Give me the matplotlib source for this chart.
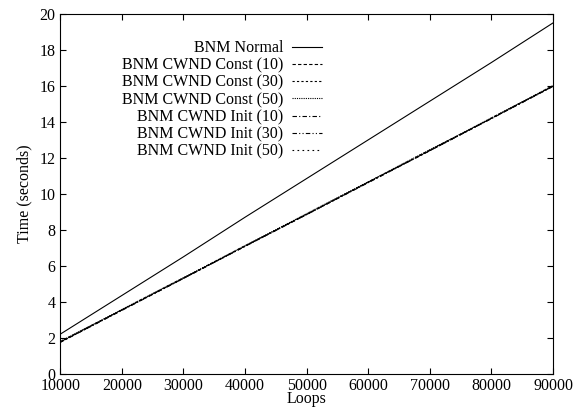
import matplotlib
matplotlib.use("Agg")
import matplotlib.pyplot as plt

plt.rcParams['font.family'] = ['Liberation Serif', 'DejaVu Serif']

# 데이터
loops = [10000, 20000, 30000, 40000, 50000, 60000, 70000, 80000, 90000]
normal = [2.2, 4.35, 6.5, 8.7, 10.85, 13.0, 15.15, 17.3, 19.5]
const10 = [1.75, 3.55, 5.3, 7.1, 8.85, 10.65, 12.4, 14.2, 16.0]
const30 = [1.78, 3.55, 5.32, 7.1, 8.87, 10.65, 12.42, 14.2, 15.98]
const50 = [1.8, 3.57, 5.34, 7.12, 8.9, 10.67, 12.45, 14.22, 16.02]
init10 = [1.75, 3.52, 5.3, 7.08, 8.85, 10.62, 12.4, 14.18, 15.97]
init30 = [1.77, 3.54, 5.31, 7.09, 8.86, 10.64, 12.41, 14.19, 15.99]
init50 = [1.78, 3.56, 5.33, 7.11, 8.88, 10.66, 12.44, 14.21, 16.01]

labels = ["BNM Normal", "BNM CWND Const (10)", "BNM CWND Const (30)",
          "BNM CWND Const (50)", "BNM CWND Init (10)", "BNM CWND Init (30)",
          "BNM CWND Init (50)"]
series = [normal, const10, const30, const50, init10, init30, init50]
styles = ["-", (0, (3, 2)), (0, (2, 2)), (0, (1, 1)),
          (0, (4, 2, 1, 2)), (0, (4, 2, 1, 2, 1, 2)), (0, (1.5, 3))]

fig = plt.figure(figsize=(5.84, 4.09), dpi=100)
ax = fig.add_axes([0.103, 0.086, 0.844, 0.88])

for s, lab, ls in zip(series, labels, styles):
    ax.plot(loops, s, color="black", linestyle=ls, linewidth=0.8, label=lab)

ax.set_xlim(10000, 90000)
ax.set_ylim(0, 20)
ax.set_xticks(range(10000, 90001, 10000))
ax.set_yticks(range(0, 21, 2))
ax.tick_params(direction="in", top=True, right=True, labelsize=11.5, length=4, width=0.8)
ax.tick_params(axis="x", pad=3)
for sp in ax.spines.values():
    sp.set_linewidth(0.8)
ax.set_xlabel("Loops", fontsize=11.5, labelpad=-2)
ax.set_ylabel("Time (seconds)", fontsize=11.5, labelpad=5)

leg = ax.legend(loc="upper right", bbox_to_anchor=(0.532, 0.927), frameon=False,
                markerfirst=False, fontsize=11.5, handlelength=1.9,
                labelspacing=0.08, handletextpad=0.55,
                borderpad=0, borderaxespad=0)
for t in leg.get_texts():
    t.set_ha("right")

fig.savefig("out.png", dpi=100)
